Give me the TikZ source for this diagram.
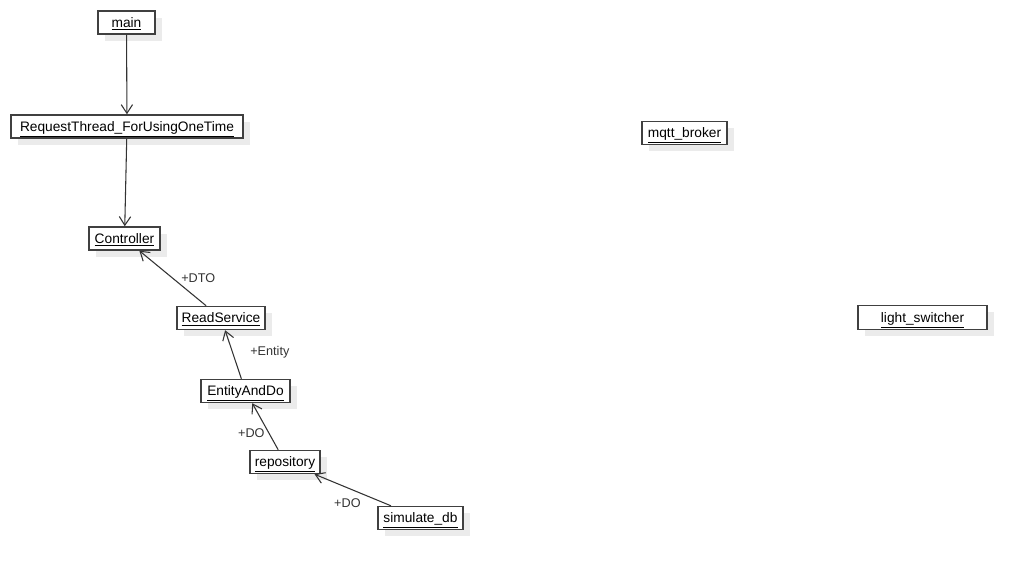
\documentclass[tikz,border=0pt]{standalone}
\usepackage{fontspec}
\setmainfont{Liberation Sans}
\usetikzlibrary{arrows.meta,shadows}

\begin{document}
\begin{tikzpicture}[x=0.75pt, y=-0.75pt,
	obj/.style={draw=black!75, line width=1.1pt, fill=white, minimum height=17.25pt, inner sep=1pt,
		text height=9.5pt, text depth=2.3pt, font=\fontsize{10.3}{12}\selectfont,
		drop shadow={shadow xshift=5.25pt, shadow yshift=-5.25pt, fill=black!8, opacity=1}},
	assoc/.style={draw=black!80, line width=0.8pt, -{Straight Barb[length=6.5pt,width=8.5pt]}},
	lbl/.style={font=\fontsize{9.5}{11}\selectfont, text=black!80, inner sep=1pt}]

	% ---- frame

	\useasboundingbox (0,0) rectangle (1026,570);

	% ---- objects

	\node[obj, minimum width=42.75pt] (main) at (126.5,22.5) {\underline{main}};
	\node[obj, minimum width=174pt] (requestthread) at (127,126.5) {\underline{RequestThread\_ForUsingOneTime}};
	\node[obj, minimum width=53.25pt] (controller) at (124.5,238.5) {\underline{Controller}};
	\node[obj, minimum width=66pt] (readservice) at (221,318) {\underline{ReadService}};
	\node[obj, minimum width=66.75pt] (entityanddo) at (245.5,391) {\underline{EntityAndDo}};
	\node[obj, minimum width=52.5pt] (repository) at (285,462) {\underline{repository}};
	\node[obj, minimum width=63.75pt] (simulatedb) at (420.5,518) {\underline{simulate\_db}};

	\node[obj, minimum width=63.75pt] (mqttbroker) at (684.5,133) {\underline{mqtt\_broker}};
	\node[obj, minimum width=96.75pt, minimum height=18pt] (lightswitcher) at (922.5,317.5) {\underline{light\_switcher}};

	% ---- calls

	\draw[assoc] (main) -- (requestthread);
	\draw[assoc] (requestthread) -- (controller);

	% ---- data passing

	\draw[assoc] (readservice) -- node[lbl, midway, right=5pt] {+DTO} (controller);
	\draw[assoc] (entityanddo) -- node[lbl, pos=0.55, right=12pt] {+Entity} (readservice);
	\draw[assoc] (repository) -- node[lbl, pos=0.35, left=2pt] {+DO} (entityanddo);
	\draw[assoc] (simulatedb) -- node[lbl, pos=0.57, below=7pt] {+DO} (repository);

\end{tikzpicture}
\end{document}
